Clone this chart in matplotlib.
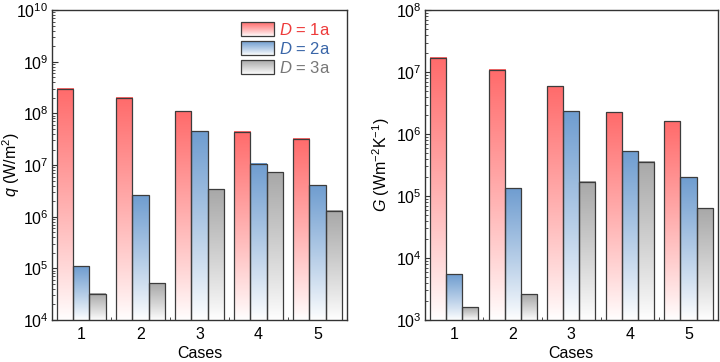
import matplotlib
matplotlib.use("Agg")
import matplotlib.pyplot as plt
import numpy as np
from matplotlib.legend_handler import HandlerBase
from matplotlib.image import BboxImage
from matplotlib.transforms import Bbox, TransformedBbox
from matplotlib.patches import Rectangle
from matplotlib.ticker import LogLocator, NullFormatter, FixedLocator

plt.rcParams["font.family"] = ["Liberation Sans", "DejaVu Sans"]
plt.rcParams["mathtext.fontset"] = "custom"
plt.rcParams["mathtext.rm"] = "Liberation Sans"
plt.rcParams["mathtext.it"] = "Liberation Sans:italic"
plt.rcParams["font.size"] = 11

cases = [1, 2, 3, 4, 5]
labels = ["1a", "2a", "3a"]
q_1a = [3.0e8, 2.0e8, 1.1e8, 4.4e7, 3.2e7]
q_2a = [1.1e5, 2.6e6, 4.5e7, 1.05e7, 4.1e6]
q_3a = [3.2e4, 5.2e4, 3.4e6, 7.3e6, 1.3e6]
g_1a = [1.7e7, 1.1e7, 5.9e6, 2.25e6, 1.6e6]
g_2a = [5.5e3, 1.34e5, 2.35e6, 5.3e5, 2.0e5]
g_3a = [1.6e3, 2.6e3, 1.7e5, 3.6e5, 6.4e4]

COR = ["#ff6b6b", "#6f9dd0", "#a8a8a8"]
TXT = ["#ee3b3b", "#3a66a8", "#777777"]
EDGE = "#3c3c3c"


def grad_img(color, n=256):
    c = np.array(matplotlib.colors.to_rgb(color))
    t = np.linspace(0, 1, n)[:, None] ** 0.9  # 0 = bas (blanc), 1 = haut (couleur)
    rgb = (1 - t) * np.ones(3) + t * c
    return rgb[::-1][:, None, :]


class GradHandler(HandlerBase):
    def create_artists(self, legend, orig_handle, xd, yd, w, h, fs, trans):
        bb = TransformedBbox(Bbox.from_bounds(-xd, -yd, w, h), trans)
        img = BboxImage(bb, interpolation="bilinear")
        img.set_data(grad_img(orig_handle.get_facecolor()))
        rect = Rectangle((-xd, -yd), w, h, fill=False, edgecolor=EDGE, lw=0.9, transform=trans)
        return [img, rect]


def panel(ax, series, ylim, ylabel, ylab_x):
    w = 0.275
    x = np.array(cases, dtype=float)
    ax.set_yscale("log")
    ax.set_xlim(0.5, 5.5)
    ax.set_ylim(*ylim)
    to_ax = ax.transData + ax.transAxes.inverted()
    for k, vals in enumerate(series):
        bars = ax.bar(x + (k - 1) * w, vals, w, facecolor="none",
                      edgecolor=EDGE, lw=0.9, zorder=3)
        for b in bars:
            (x0, y0), (x1, y1) = to_ax.transform([(b.get_x(), ylim[0]),
                                                  (b.get_x() + b.get_width(), b.get_height())])
            ax.imshow(grad_img(COR[k]), extent=[x0, x1, y0, y1], transform=ax.transAxes,
                      aspect="auto", interpolation="bilinear", zorder=2)
    ax.set_xlim(0.5, 5.5)
    ax.set_ylim(*ylim)
    ax.set_xticks(cases)
    ax.xaxis.set_minor_locator(FixedLocator([1.5, 2.5, 3.5, 4.5]))
    ax.yaxis.set_major_locator(LogLocator(base=10, numticks=20))
    ax.yaxis.set_minor_locator(LogLocator(base=10, subs=np.arange(2, 10), numticks=100))
    ax.yaxis.set_minor_formatter(NullFormatter())
    ax.tick_params(which="both", direction="in", top=False, right=False, color="#333333")
    ax.tick_params(which="major", length=4, labelsize=11.5)
    ax.tick_params(which="minor", length=2.5)
    ax.tick_params(axis="y", pad=2.5)
    ax.tick_params(axis="x", pad=5)
    for s in ax.spines.values():
        s.set_color("#333333")
        s.set_linewidth(1.0)
    ax.set_xlabel("Cases", fontsize=11.5, labelpad=3)
    ax.set_ylabel(ylabel, fontsize=11.5)
    ax.yaxis.set_label_coords(ylab_x, 0.5)


fig = plt.figure(figsize=(7.2, 3.62), dpi=100)
ax1 = fig.add_axes([0.072, 0.116, 0.410, 0.856])
ax2 = fig.add_axes([0.590, 0.116, 0.407, 0.856])

panel(ax1, [q_1a, q_2a, q_3a], (1e4, 1e10), r"$q$ (W/m$^2$)", -0.1)
panel(ax2, [g_1a, g_2a, g_3a], (1e3, 1e8), r"$G$ (Wm$^{-2}$K$^{-1}$)", -0.113)

handles = [Rectangle((0, 0), 1, 1, facecolor=c) for c in COR]
leg = ax1.legend(handles, [rf"$D$ = {l}" for l in labels], loc="upper right",
                 frameon=False, handler_map={Rectangle: GradHandler()},
                 handlelength=2.0, handleheight=0.85, handletextpad=0.3,
                 labelspacing=0.18, fontsize=12, borderaxespad=0.3,
                 bbox_to_anchor=(0.985, 1.0))
for t, c in zip(leg.get_texts(), TXT):
    t.set_color(c)

fig.savefig("out.png", dpi=100)
